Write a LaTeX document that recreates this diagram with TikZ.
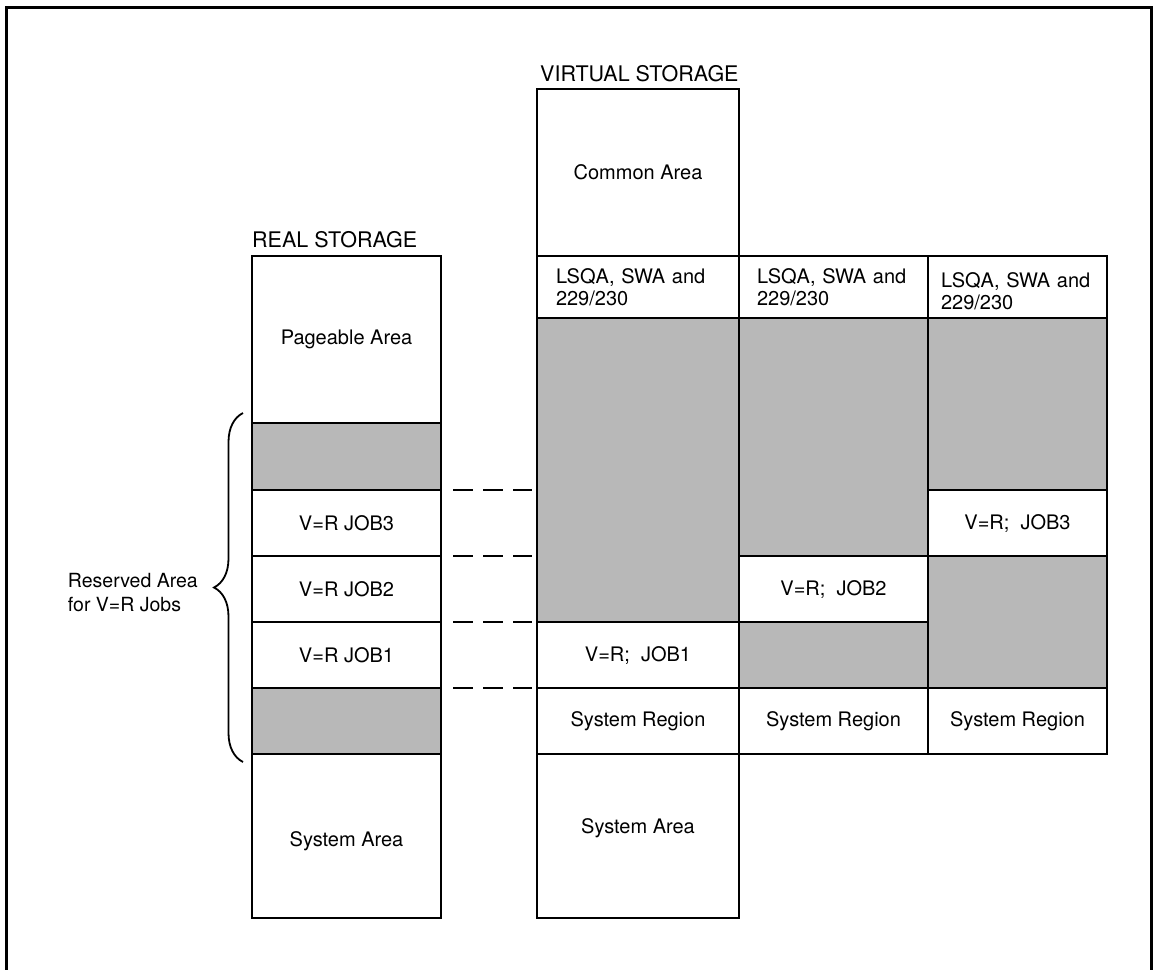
\documentclass[tikz,border=0pt]{standalone}
\usepackage{fontspec}
\newfontfamily\hv{TeX Gyre Heros}
\usetikzlibrary{decorations.pathreplacing}
\newcommand{\shiftlab}[2]{\raisebox{#1}[\height][\depth]{#2}}
\tikzset{
  cell/.style={rectangle, draw, line width=2pt, inner sep=0pt, outer sep=0pt,
    anchor=north west, font=\hv\fontsize{20}{22}\selectfont},
  shade/.style={cell, fill=black!28},
  title/.style={anchor=base west, inner sep=0pt, font=\hv\fontsize{21.5}{24}\selectfont},
  dashline/.style={line width=2.4pt, dash pattern=on 20pt off 10pt, shorten <=12pt, shorten >=5pt},
  frame/.style={line width=3pt}
}
\begin{document}
\begin{tikzpicture}[x=1pt,y=1pt]
\useasboundingbox (0,0) rectangle (1156,-969);
\draw[frame] (6,-975) -- (6,-7) -- (1151,-7) -- (1151,-975);

% titles
\node[title] (rtitle) at (252,-247) {REAL STORAGE};
\node[title] (vtitle) at (540,-81) {VIRTUAL STORAGE};

% real storage
\node[cell, minimum width=189pt, minimum height=167pt] (rpage) at (252,-256) {Pageable Area};
\node[shade, minimum width=189pt, minimum height=67pt] (rshA) at (252,-423) {};
\node[cell, minimum width=189pt, minimum height=66pt] (rjob3) at (252,-490) {V=R JOB3};
\node[cell, minimum width=189pt, minimum height=66pt] (rjob2) at (252,-556) {V=R JOB2};
\node[cell, minimum width=189pt, minimum height=66pt] (rjob1) at (252,-622) {V=R JOB1};
\node[shade, minimum width=189pt, minimum height=66pt] (rshB) at (252,-688) {};
\node[cell, minimum width=189pt, minimum height=164pt] (rsys) at (252,-754) {\shiftlab{-5pt}{System Area}};

% virtual storage column 1
\node[cell, minimum width=202pt, minimum height=167pt] (vcommon) at (537,-89) {Common Area};
\node[cell, minimum width=202pt, minimum height=62pt, align=left, text width=164pt, inner xsep=19pt] (vlsqa1) at (537,-256) {LSQA, SWA and\\229/230};
\node[shade, minimum width=202pt, minimum height=304pt] (vsh1) at (537,-318) {};
\node[cell, minimum width=202pt, minimum height=66pt] (vjob1) at (537,-622) {V=R;\ \ JOB1};
\node[cell, minimum width=202pt, minimum height=66pt] (vreg1) at (537,-688) {System Region};
\node[cell, minimum width=202pt, minimum height=164pt] (vsys) at (537,-754) {\shiftlab{8pt}{System Area}};

% column 2
\node[cell, minimum width=189pt, minimum height=62pt, align=left, text width=153pt, inner xsep=18pt] (vlsqa2) at (739,-256) {LSQA, SWA and\\229/230};
\node[shade, minimum width=189pt, minimum height=238pt] (vsh2a) at (739,-318) {};
\node[cell, minimum width=189pt, minimum height=66pt] (vjob2) at (739,-556) {V=R;\ \ JOB2};
\node[shade, minimum width=189pt, minimum height=66pt] (vsh2b) at (739,-622) {};
\node[cell, minimum width=189pt, minimum height=66pt] (vreg2) at (739,-688) {System Region};

% column 3
\node[cell, minimum width=179pt, minimum height=62pt, align=left, text width=153pt, inner xsep=13pt] (vlsqa3) at (928,-256) {\shiftlab{-4pt}{LSQA, SWA and}\\\shiftlab{-4pt}{229/230}};
\node[shade, minimum width=179pt, minimum height=172pt] (vsh3a) at (928,-318) {};
\node[cell, minimum width=179pt, minimum height=66pt] (vjob3) at (928,-490) {V=R;\ \ JOB3};
\node[shade, minimum width=179pt, minimum height=132pt] (vsh3b) at (928,-556) {};
\node[cell, minimum width=179pt, minimum height=66pt] (vreg3) at (928,-688) {System Region};

% dashed connectors
\draw[dashline] (rjob3.north east) -- (rjob3.north east -| vsh1.west);
\draw[dashline] (rjob2.north east) -- (rjob2.north east -| vsh1.west);
\draw[dashline] (rjob1.north east) -- (rjob1.north east -| vsh1.west);
\draw[dashline] (rjob1.south east) -- (rjob1.south east -| vjob1.west);

% brace and its label
\coordinate (brtop) at (243,-413);
\coordinate (brbot) at (243,-762);
\draw[line width=1.8pt, decorate, decoration={brace, amplitude=29pt}] (brbot) -- (brtop);
\node[anchor=east, align=left, inner sep=0pt, font=\hv\fontsize{19.5}{24}\selectfont] (resv) at (198,-593) {Reserved Area\\for V=R Jobs};
\end{tikzpicture}
\end{document}
